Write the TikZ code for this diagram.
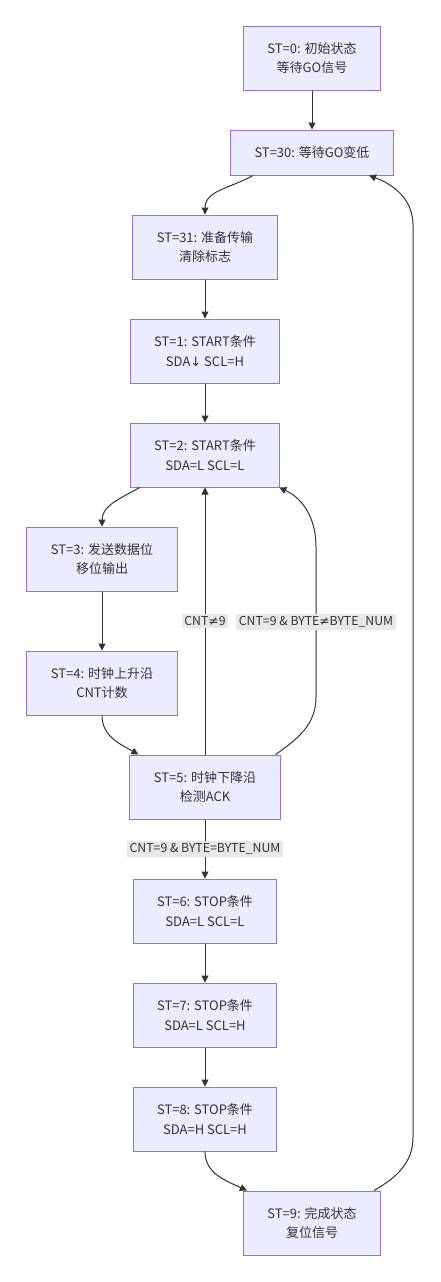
\documentclass[tikz,border=0pt]{standalone}
\usepackage{fontspec}
\setmainfont{Noto Sans CJK SC}
\newfontfamily\symfont{DejaVu Sans}
\usetikzlibrary{arrows.meta}

\definecolor{stfill}{HTML}{ECECFF}
\definecolor{stline}{HTML}{9370DB}
\definecolor{ink}{HTML}{333333}
\definecolor{lblfill}{HTML}{E8E8E8}

\newcommand{\neqsym}{{\symfont ≠}}
\newcommand{\downsym}{{\symfont ↓}}

\tikzset{
	state/.style={draw=stline, fill=stfill, line width=1pt, align=center, text=ink,
		font=\fontsize{13}{19.5}\selectfont, inner xsep=24pt, minimum height=64pt},
	flow/.style={draw=ink, line width=1pt, -{Triangle[length=7pt,width=7pt]}},
	lbl/.style={fill=lblfill, text=ink, font=\fontsize{12.3}{14}\selectfont, inner sep=2.5pt}
}

\begin{document}
\begin{tikzpicture}[x=1pt, y=1pt]

	\useasboundingbox (0,0) rectangle (440,-1282);

	\node[state] (st0) at (312,-58) {ST=0: 初始状态\\等待GO信号};
	\node[state, minimum height=45pt] (st30) at (312,-152.5) {ST=30: 等待GO变低};
	\node[state] (st31) at (205,-247) {ST=31: 准备传输\\清除标志};
	\node[state] (st1) at (205,-351) {ST=1: START条件\\SDA\downsym{} SCL=H};
	\node[state] (st2) at (205,-455) {ST=2: START条件\\SDA=L SCL=L};
	\node[state] (st3) at (102,-559) {ST=3: 发送数据位\\移位输出};
	\node[state] (st4) at (102,-683) {ST=4: 时钟上升沿\\CNT计数};
	\node[state] (st5) at (205,-787) {ST=5: 时钟下降沿\\检测ACK};
	\node[state] (st6) at (205,-911) {ST=6: STOP条件\\SDA=L SCL=L};
	\node[state] (st7) at (205,-1015) {ST=7: STOP条件\\SDA=L SCL=H};
	\node[state] (st8) at (205,-1119) {ST=8: STOP条件\\SDA=H SCL=H};
	\node[state] (st9) at (312,-1223) {ST=9: 完成状态\\复位信号};

	\coordinate (ackcol) at (316,-697);
	\coordinate (donecol) at (413,-1137);

	\draw[flow] (st0) -- (st30);
	\draw[flow] ([xshift=23pt]st30.south west) to[out=-150, in=90] (st31.north);
	\draw[flow] (st31) -- (st1);
	\draw[flow] (st1) -- (st2);
	\draw[flow] ([xshift=10pt]st2.south west) to[out=-150, in=90] (st3.north);
	\draw[flow] (st3) -- (st4);
	\draw[flow] (st4.south) to[out=-90, in=150] ([xshift=9pt]st5.north west);

	% back to ST=2
	\draw[flow] (st5.north) -- (st5.north |- st2.south) node[lbl, midway] {CNT\neqsym9};
	\draw[flow] ([xshift=-5pt]st5.north east) to[out=35, in=-90] (ackcol)
		-- ++(0,150) node[lbl, midway] {CNT=9 \& BYTE\neqsym{}BYTE\_NUM}
		to[out=90, in=-25] ([xshift=-1pt]st2.south east);

	\draw[flow] (st5) -- (st6) node[lbl, midway] {CNT=9 \& BYTE=BYTE\_NUM};
	\draw[flow] (st6) -- (st7);
	\draw[flow] (st7) -- (st8);
	\draw[flow] (st8.south) to[out=-90, in=155] ([xshift=4pt]st9.north west);

	% loop back to ST=30
	\draw[flow] ([xshift=-7pt]st9.north east) to[out=30, in=-90] (donecol)
		-- ++(0,912) to[out=90, in=-20] ([xshift=-25pt]st30.south east);

\end{tikzpicture}
\end{document}
